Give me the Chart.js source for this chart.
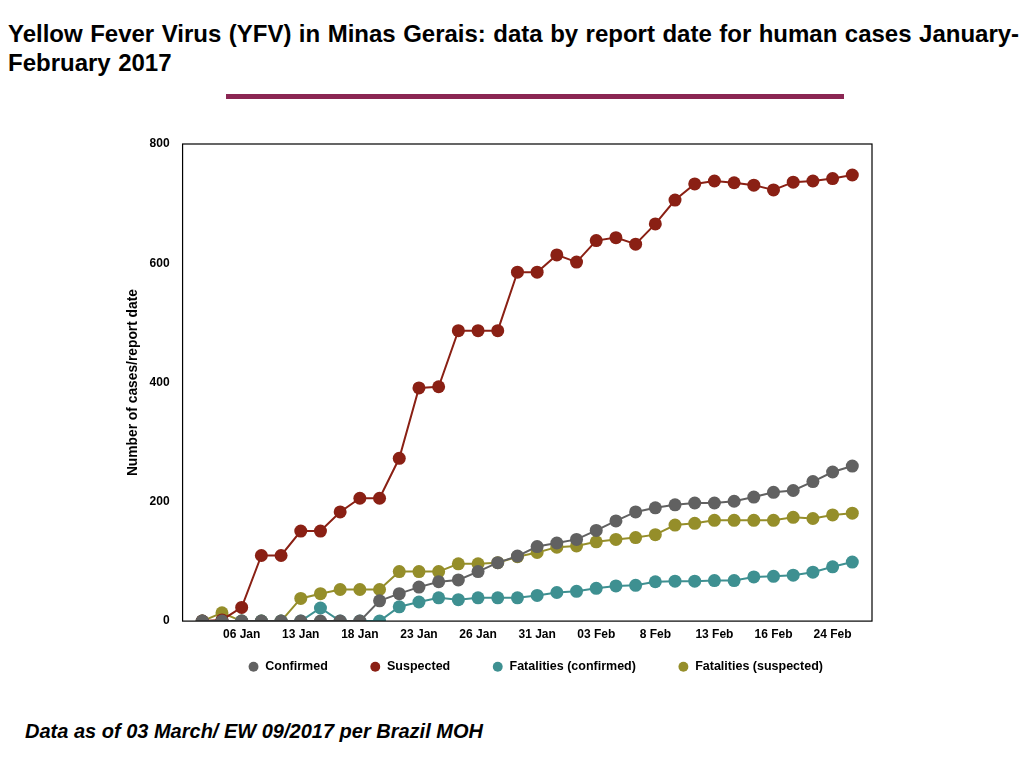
<!DOCTYPE html>
<html>
<head>
<meta charset="utf-8">
<script src="https://cdn.jsdelivr.net/npm/chart.js@4/dist/chart.umd.min.js"></script>
<style>
  body { margin: 0; width: 1024px; height: 768px; background: #fff; font-family: "Liberation Sans", Arial, sans-serif; position: relative; overflow: hidden; }
  #title { position: absolute; left: 8px; top: 19px; font-size: 24px; font-weight: bold; line-height: 29px; white-space: nowrap; word-spacing: 0.8px; }
  #rule { position: absolute; left: 226px; top: 94px; width: 618px; height: 5px; background: #8b2653; }
  #box { position: absolute; left: 90px; top: 128px; width: 896px; height: 592px; }
  #foot { position: absolute; left: 25px; top: 720px; font-size: 20px; font-weight: bold; font-style: italic; }
</style>
</head>
<body>
<div id="title">Yellow Fever Virus (YFV) in Minas Gerais: data by report date for human cases January-<br>February 2017</div>
<div id="rule"></div>
<div id="box"><canvas id="yfvChart"></canvas></div>
<div id="foot">Data as of 03 March/ EW 09/2017 per Brazil MOH</div>
<script>
// report dates (only the labelled ones are known)
const reportDates = ["", "", "06 Jan", "", "", "13 Jan", "", "", "18 Jan", "", "",
  "23 Jan", "", "", "26 Jan", "", "", "31 Jan", "", "", "03 Feb", "", "",
  "8 Feb", "", "", "13 Feb", "", "", "16 Feb", "", "", "24 Feb", ""];

const confirmed = [0, 0, 0, 0, 0, 0, 0, 0, 0, 34, 46, 57, 66, 69, 83, 98, 109,
  125, 131, 137, 152, 168, 183, 190, 195, 198, 198, 201, 208, 216, 219, 234, 250, 260];

const suspected = [0, 2, 23, 110, 110, 151, 151, 183, 206, 206, 273, 391, 393, 487, 487, 487, 585,
  585, 614, 602, 638, 643, 632, 666, 706, 733, 738, 735, 731, 723, 736, 738, 742, 748];

const fatalConfirmed = [0, 0, 0, 0, 0, 0, 22, 0, 0, 0, 24, 32, 39, 36, 39, 39, 39,
  43, 48, 50, 55, 59, 60, 66, 67, 67, 68, 68, 74, 75, 77, 82, 91, 99];

const fatalSuspected = [0, 14, 0, 0, 0, 38, 46, 53, 53, 53, 83, 83, 83, 96, 96, 98, 108,
  115, 124, 126, 133, 137, 140, 145, 161, 164, 169, 169, 169, 169, 174, 172, 178, 181];

const yTicks = [0, 200, 400, 600, 800];

const seriesInfo = [
  { label: "Confirmed", values: confirmed, color: "#616161" },
  { label: "Suspected", values: suspected, color: "#8a2014" },
  { label: "Fatalities (confirmed)", values: fatalConfirmed, color: "#3e9091" },
  { label: "Fatalities (suspected)", values: fatalSuspected, color: "#958e2a" }
];

// box around the plot area
const frame = {
  id: "frame",
  afterDraw(c) {
    const a = c.chartArea;
    const ctx = c.ctx;
    ctx.save();
    ctx.strokeStyle = "#000";
    ctx.lineWidth = 1.2;
    ctx.strokeRect(a.left, a.top, a.right - a.left, a.bottom - a.top);
    ctx.restore();
  }
};

// wide legend spacing needs big padding, which also pushes it down; pull it back
const legendNudge = {
  id: "legendNudge",
  afterLayout(c) {
    const lg = c.legend;
    lg.top -= 29; lg.bottom -= 29;
    lg.left += 37; lg.right += 37;
  }
};

const font = { family: "'Liberation Sans', Arial, sans-serif", weight: "bold", size: 12 };

new Chart(document.getElementById("yfvChart"), {
  type: "line",
  data: {
    datasets: seriesInfo.map(s => ({
      label: s.label,
      data: s.values.map((v, i) => ({ x: i, y: v })),
      borderColor: s.color,
      backgroundColor: s.color,
      borderWidth: 2,
      pointRadius: 6.5,
      pointHoverRadius: 6.5,
      pointBorderWidth: 0,
      tension: 0
    }))
  },
  options: {
    responsive: true,
    maintainAspectRatio: false,
    animation: false,
    layout: { padding: { left: 35, right: 114, top: 16, bottom: 8 } },
    plugins: {
      tooltip: { enabled: false },
      legend: {
        position: "bottom",
        labels: {
          usePointStyle: true,
          pointStyle: "circle",
          boxWidth: 11,
          boxHeight: 7,
          padding: 42,
          color: "#000",
          font: { ...font, size: 12.5 }
        }
      }
    },
    scales: {
      x: {
        type: "linear",
        min: -1,
        max: reportDates.length,
        grid: { display: false, drawTicks: false },
        border: { display: false },
        ticks: {
          stepSize: 1,
          autoSkip: false,
          maxRotation: 0,
          padding: 6,
          color: "#000",
          font: font,
          callback: v => reportDates[v] || ""
        }
      },
      y: {
        min: 0,
        max: 800,
        grid: { display: false },
        border: { display: false },
        afterBuildTicks: s => { s.ticks = yTicks.map(v => ({ value: v })); },
        ticks: { padding: 5, color: "#000", font: font },
        title: {
          display: true,
          text: "Number of cases/report date",
          color: "#000",
          padding: { top: 0, bottom: 3 },
          font: { ...font, size: 13.8 }
        }
      }
    }
  },
  plugins: [frame, legendNudge]
});
</script>
</body>
</html>
